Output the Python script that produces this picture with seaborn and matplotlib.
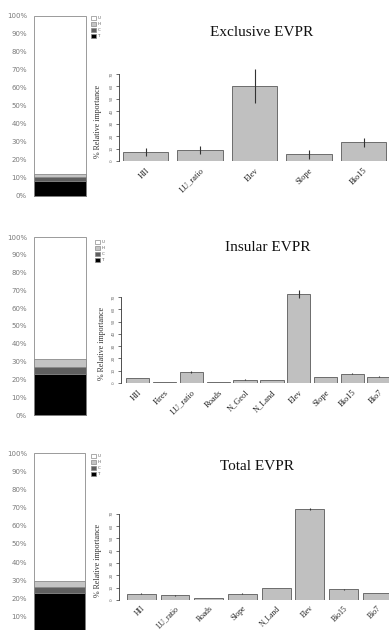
import matplotlib
matplotlib.use("Agg")
import matplotlib.pyplot as plt
from matplotlib.patches import Patch
import seaborn as sns
import pandas as pd

sns.set_theme(style="white")
plt.rcParams["font.family"] = ["DejaVu Sans"]

# Share of each class in each EVPR group (bottom to top: T, C, H, U)
classes = ["T", "C", "H", "U"]
exclusive_share = [8.3, 2.3, 1.5, 87.9]
insular_share = [23.3, 3.8, 4.3, 68.6]
total_share = [23.0, 3.3, 3.1, 70.6]

# Relative importance of predictors (%) with error half-widths
exclusive_vars = ["HII", "LU_ratio", "Elev", "Slope", "Bio15"]
exclusive_imp = [7.0, 8.6, 60.3, 5.6, 15.0]
exclusive_err = [3.3, 3.2, 13.8, 3.6, 3.7]

insular_vars = ["HII", "Fires", "LU_ratio", "Roads", "N_Geol", "N_Land",
                "Elev", "Slope", "Bio15", "Bio7"]
insular_imp = [4.3, 1.1, 8.6, 1.1, 2.7, 2.7, 72.2, 4.8, 7.5, 5.1]
insular_err = [0.0, 0.0, 0.8, 0.0, 0.3, 0.0, 3.4, 0.0, 0.5, 0.4]

total_vars = ["HII", "LU_ratio", "Roads", "Slope", "N_Land", "Elev", "Bio15", "Bio7"]
total_imp = [5.1, 3.8, 1.4, 5.1, 9.5, 74.0, 8.6, 5.9]
total_err = [0.6, 0.3, 0.0, 0.4, 0.0, 1.0, 0.5, 0.0]

titles = ["Exclusive EVPR", "Insular EVPR", "Total EVPR"]

class_colors = {"T": "#000000", "C": "#5f5f5f", "H": "#c4c4c4", "U": "#ffffff"}
BAR_FACE = "#c0c0c0"
SERIF = ["Liberation Serif", "DejaVu Serif"]

W, H = 389, 630
fig = plt.figure(figsize=(W / 100, H / 100), dpi=100)
fig.patch.set_facecolor("white")


def px_rect(left, top, right, bottom):
    return [left / W, 1 - bottom / H, (right - left) / W, (bottom - top) / H]


def share_panel(share, box, legend_xy, lowest_tick=0):
    left, top, right, bottom = box
    ax = fig.add_axes(px_rect(left, top, right, bottom))
    ax.set_facecolor("none")
    # cumulative stack drawn from the top layer down
    cum = pd.Series(share, index=classes).cumsum()
    for cls in reversed(classes):
        sns.barplot(x=["EVPR"], y=[cum[cls]], color=class_colors[cls],
                    saturation=1, width=1.0, edgecolor="#8a8a8a",
                    linewidth=0.6, ax=ax)
    ax.set_xlim(-0.5, 0.5)
    ax.set_ylim(0, 100)
    ticks = list(range(lowest_tick, 101, 10))
    ax.set_yticks(ticks)
    ax.set_yticklabels([f"{v}%" for v in ticks])
    ax.tick_params(axis="y", length=0, pad=5, labelsize=5, labelcolor="#7a7a7a")
    ax.set_xticks([])
    ax.set_xlabel("")
    ax.set_ylabel("")
    for s in ax.spines.values():
        s.set_visible(False)
    for p in ax.patches:
        p.set_clip_on(False)
    handles = [Patch(facecolor=class_colors[c], edgecolor="#8a8a8a", linewidth=0.5)
               for c in reversed(classes)]
    leg = fig.legend(handles, list(reversed(classes)), loc="upper left",
                     bbox_to_anchor=(legend_xy[0] / W, 1 - legend_xy[1] / H),
                     borderaxespad=0, borderpad=0, frameon=False, fontsize=3,
                     handlelength=1.1, handleheight=1.1, handletextpad=0.4,
                     labelspacing=0.35)
    for t in leg.get_texts():
        t.set_color("#555555")


def importance_panel(names, imp, err, left, y0, ppu, first_center, spacing,
                     width, ymax, title, title_xy, ylabel_x, label_size=6,
                     label_pad=4):
    top = y0 - ymax * ppu
    ax = fig.add_axes(px_rect(left, top, W, y0))
    ax.set_facecolor("none")
    sns.barplot(x=names, y=imp, order=names, color=BAR_FACE, saturation=1,
                width=width, edgecolor="#5a5a5a", linewidth=0.6, ax=ax)
    ax.errorbar(x=list(range(len(names))), y=imp, yerr=err, fmt="none",
                ecolor="#333333", elinewidth=0.8, capsize=0, clip_on=False)
    x_lo = -(first_center - left) / spacing
    ax.set_xlim(x_lo, x_lo + (W - left) / spacing)
    ax.set_ylim(0, ymax)
    ax.set_yticks(range(0, 71, 10))
    ax.tick_params(axis="y", length=2.5, width=0.5, pad=1.5, labelsize=3,
                   labelcolor="#666666", color="#333333", labelrotation=90,
                   left=True)
    for lbl in ax.get_yticklabels():
        lbl.set_va("center")
    ax.set_xticks(range(len(names)))
    ax.set_xticklabels(names, rotation=45, ha="right", rotation_mode="anchor",
                       fontsize=label_size, family=SERIF, color="#222222")
    ax.tick_params(axis="x", length=0, pad=label_pad)
    ax.set_xlabel("")
    ax.set_ylabel("")
    for side in ["top", "right", "bottom"]:
        ax.spines[side].set_visible(False)
    ax.spines["left"].set_bounds(0, 70)
    ax.spines["left"].set_color("#333333")
    ax.spines["left"].set_linewidth(0.6)
    fig.text(title_xy[0] / W, 1 - title_xy[1] / H, title, family=SERIF,
             fontsize=11, ha="center", va="center", color="#111111")
    fig.text(ylabel_x / W, 1 - (y0 - 32 * ppu) / H, "% Relative importance",
             family=SERIF, fontsize=5.8, rotation=90, ha="center", va="center",
             color="#333333")


share_panel(exclusive_share, (34, 16, 86, 196), (91, 16))
share_panel(insular_share, (34, 237, 86, 415), (95, 240))
share_panel(total_share, (34, 453, 85, 635), (91, 454), lowest_tick=10)

importance_panel(exclusive_vars, exclusive_imp, exclusive_err, left=119, y0=161,
                 ppu=1.243, first_center=145.5, spacing=54.5, width=0.83,
                 ymax=76, title=titles[0], title_xy=(262, 32), ylabel_x=98)
importance_panel(insular_vars, insular_imp, insular_err, left=121, y0=383,
                 ppu=1.229, first_center=137.7, spacing=26.83, width=0.87,
                 ymax=77, title=titles[1], title_xy=(268, 248), ylabel_x=102)
importance_panel(total_vars, total_imp, total_err, left=119, y0=600,
                 ppu=1.233, first_center=141.3, spacing=33.7, width=0.86,
                 ymax=77, title=titles[2], title_xy=(257, 467), ylabel_x=98,
                 label_size=5.5, label_pad=3)

fig.savefig("out.png", dpi=100, facecolor="white")
